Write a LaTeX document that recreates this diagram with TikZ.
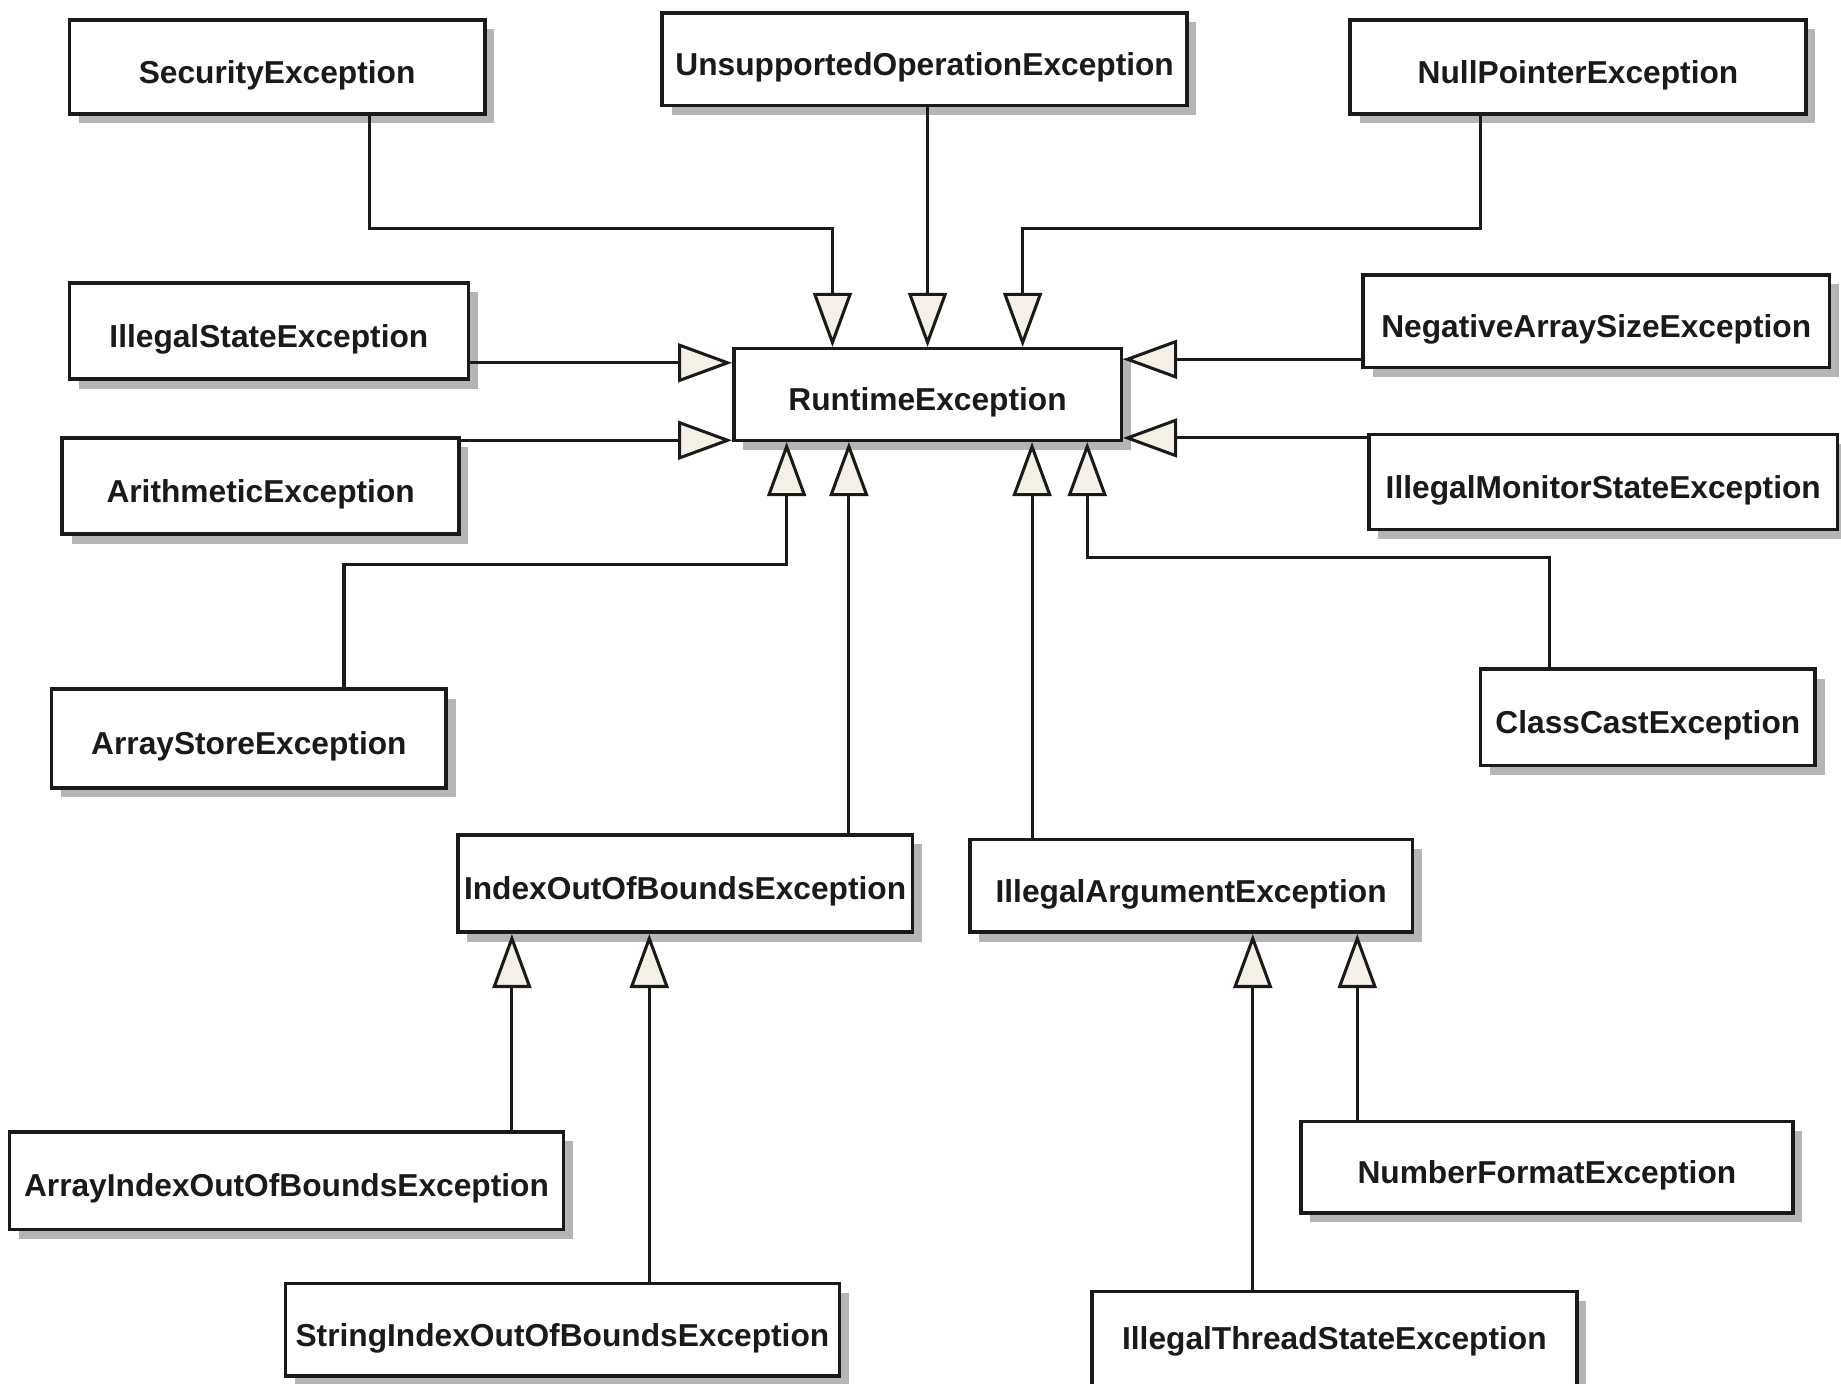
\documentclass[tikz,border=0pt]{standalone}
\usepackage{fontspec}
\setmainfont{Liberation Sans}
\usetikzlibrary{arrows.meta,shadows,fit}
\definecolor{shadowgray}{HTML}{B5B5B5}
\definecolor{tipfill}{HTML}{F5F0E6}
\definecolor{ink}{HTML}{1A1A1A}
\tikzset{
  cls/.style={draw=ink, line width=1.5pt, fill=white, inner sep=0pt,
    general shadow={fill=shadowgray, shadow xshift=4pt, shadow yshift=-4pt}},
  clsname/.style={font=\bfseries\fontsize{13.5}{16}\selectfont, text=ink,
    inner sep=0pt, yshift=-3.5pt},
  gen/.style={draw=ink, line width=1.3pt,
    -{Triangle[length=23pt, width=16.5pt, fill=tipfill, line join=miter]}},
}
\begin{document}
\begin{tikzpicture}[x=0.5pt, y=-0.5pt]
\useasboundingbox (0,0) rectangle (1568,1178);
\fill[white] (0,0) rectangle (1568,1178);
\clip (0,0) rectangle (1568,1178);

% class boxes, each with its class name in the middle
\node[cls, fit={(59,17) (413,97)},     label={[clsname]center:SecurityException}] (sec) {};
\node[cls, fit={(564,11) (1011,90)},   label={[clsname]center:UnsupportedOperationException}] (uoe) {};
\node[cls, fit={(1150,17) (1538,97)},  label={[clsname]center:NullPointerException}] (npe) {};
\node[cls, fit={(59,241) (399,323)},   label={[clsname]center:IllegalStateException}] (ise) {};
\node[cls, fit={(625,297) (955,375)},  label={[clsname]center:RuntimeException}] (rt) {};
\node[cls, fit={(1161,234) (1558,313)}, label={[clsname]center:NegativeArraySizeException}] (nase) {};
\node[cls, fit={(53,373) (391,455)},   label={[clsname]center:ArithmeticException}] (ae) {};
\node[cls, fit={(1166,370) (1565,451)}, label={[clsname]center:IllegalMonitorStateException}] (imse) {};
\node[cls, fit={(44,587) (380,671)},   label={[clsname]center:ArrayStoreException}] (ase) {};
\node[cls, fit={(1261,570) (1546,652)}, label={[clsname]center:ClassCastException}] (cce) {};
\node[cls, fit={(390,711) (777,794)},  label={[clsname]center:IndexOutOfBoundsException}] (ioob) {};
\node[cls, fit={(826,715) (1203,794)}, label={[clsname]center:IllegalArgumentException}] (iae) {};
\node[cls, fit={(8,964) (480,1047)},   label={[clsname]center:ArrayIndexOutOfBoundsException}] (aioob) {};
\node[cls, fit={(1108,955) (1527,1033)}, label={[clsname]center:NumberFormatException}] (nfe) {};
\node[cls, fit={(243,1093) (715,1172)}, label={[clsname]center:StringIndexOutOfBoundsException}] (sioob) {};
\node[cls, fit={(930,1100) (1343,1187)}, label={[clsname, yshift=4pt]center:IllegalThreadStateException}] (itse) {};

% elbows and lanes of the inheritance connectors
\coordinate (e1) at (315,195);  \coordinate (e2) at (709,195);
\coordinate (e3) at (1261,195); \coordinate (e4) at (871,195);
\coordinate (e5) at (293,481);  \coordinate (e6) at (670,481);
\coordinate (e7) at (1320,475); \coordinate (e8) at (926,475);
\coordinate (h1) at (0,309);    \coordinate (h2) at (0,375);
\coordinate (h3) at (0,306);    \coordinate (h4) at (0,373);
\coordinate (v1) at (723,0);    \coordinate (v2) at (879,0);
\coordinate (v3) at (436,0);    \coordinate (v4) at (553,0);
\coordinate (v5) at (1067,0);   \coordinate (v6) at (1156,0);

% subclasses of RuntimeException
\draw[gen] (sec.south -| e1) -- (e1) -- (e2) -- (rt.north -| e2);
\draw[gen] (uoe.south -| rt.north) -- (rt.north);
\draw[gen] (npe.south -| e3) -- (e3) -- (e4) -- (rt.north -| e4);
\draw[gen] (ise.east |- h1) -- (rt.west |- h1);
\draw[gen] (ae.east |- h2) -- (rt.west |- h2);
\draw[gen] (nase.west |- h3) -- (rt.east |- h3);
\draw[gen] (imse.west |- h4) -- (rt.east |- h4);
\draw[gen] (ase.north -| e5) -- (e5) -- (e6) -- (rt.south -| e6);
\draw[gen] (cce.north -| e7) -- (e7) -- (e8) -- (rt.south -| e8);
\draw[gen] (ioob.north -| v1) -- (rt.south -| v1);
\draw[gen] (iae.north -| v2) -- (rt.south -| v2);

% subclasses of IndexOutOfBoundsException
\draw[gen] (aioob.north -| v3) -- (ioob.south -| v3);
\draw[gen] (sioob.north -| v4) -- (ioob.south -| v4);

% subclasses of IllegalArgumentException
\draw[gen] (itse.north -| v5) -- (iae.south -| v5);
\draw[gen] (nfe.north -| v6) -- (iae.south -| v6);
\end{tikzpicture}
\end{document}
